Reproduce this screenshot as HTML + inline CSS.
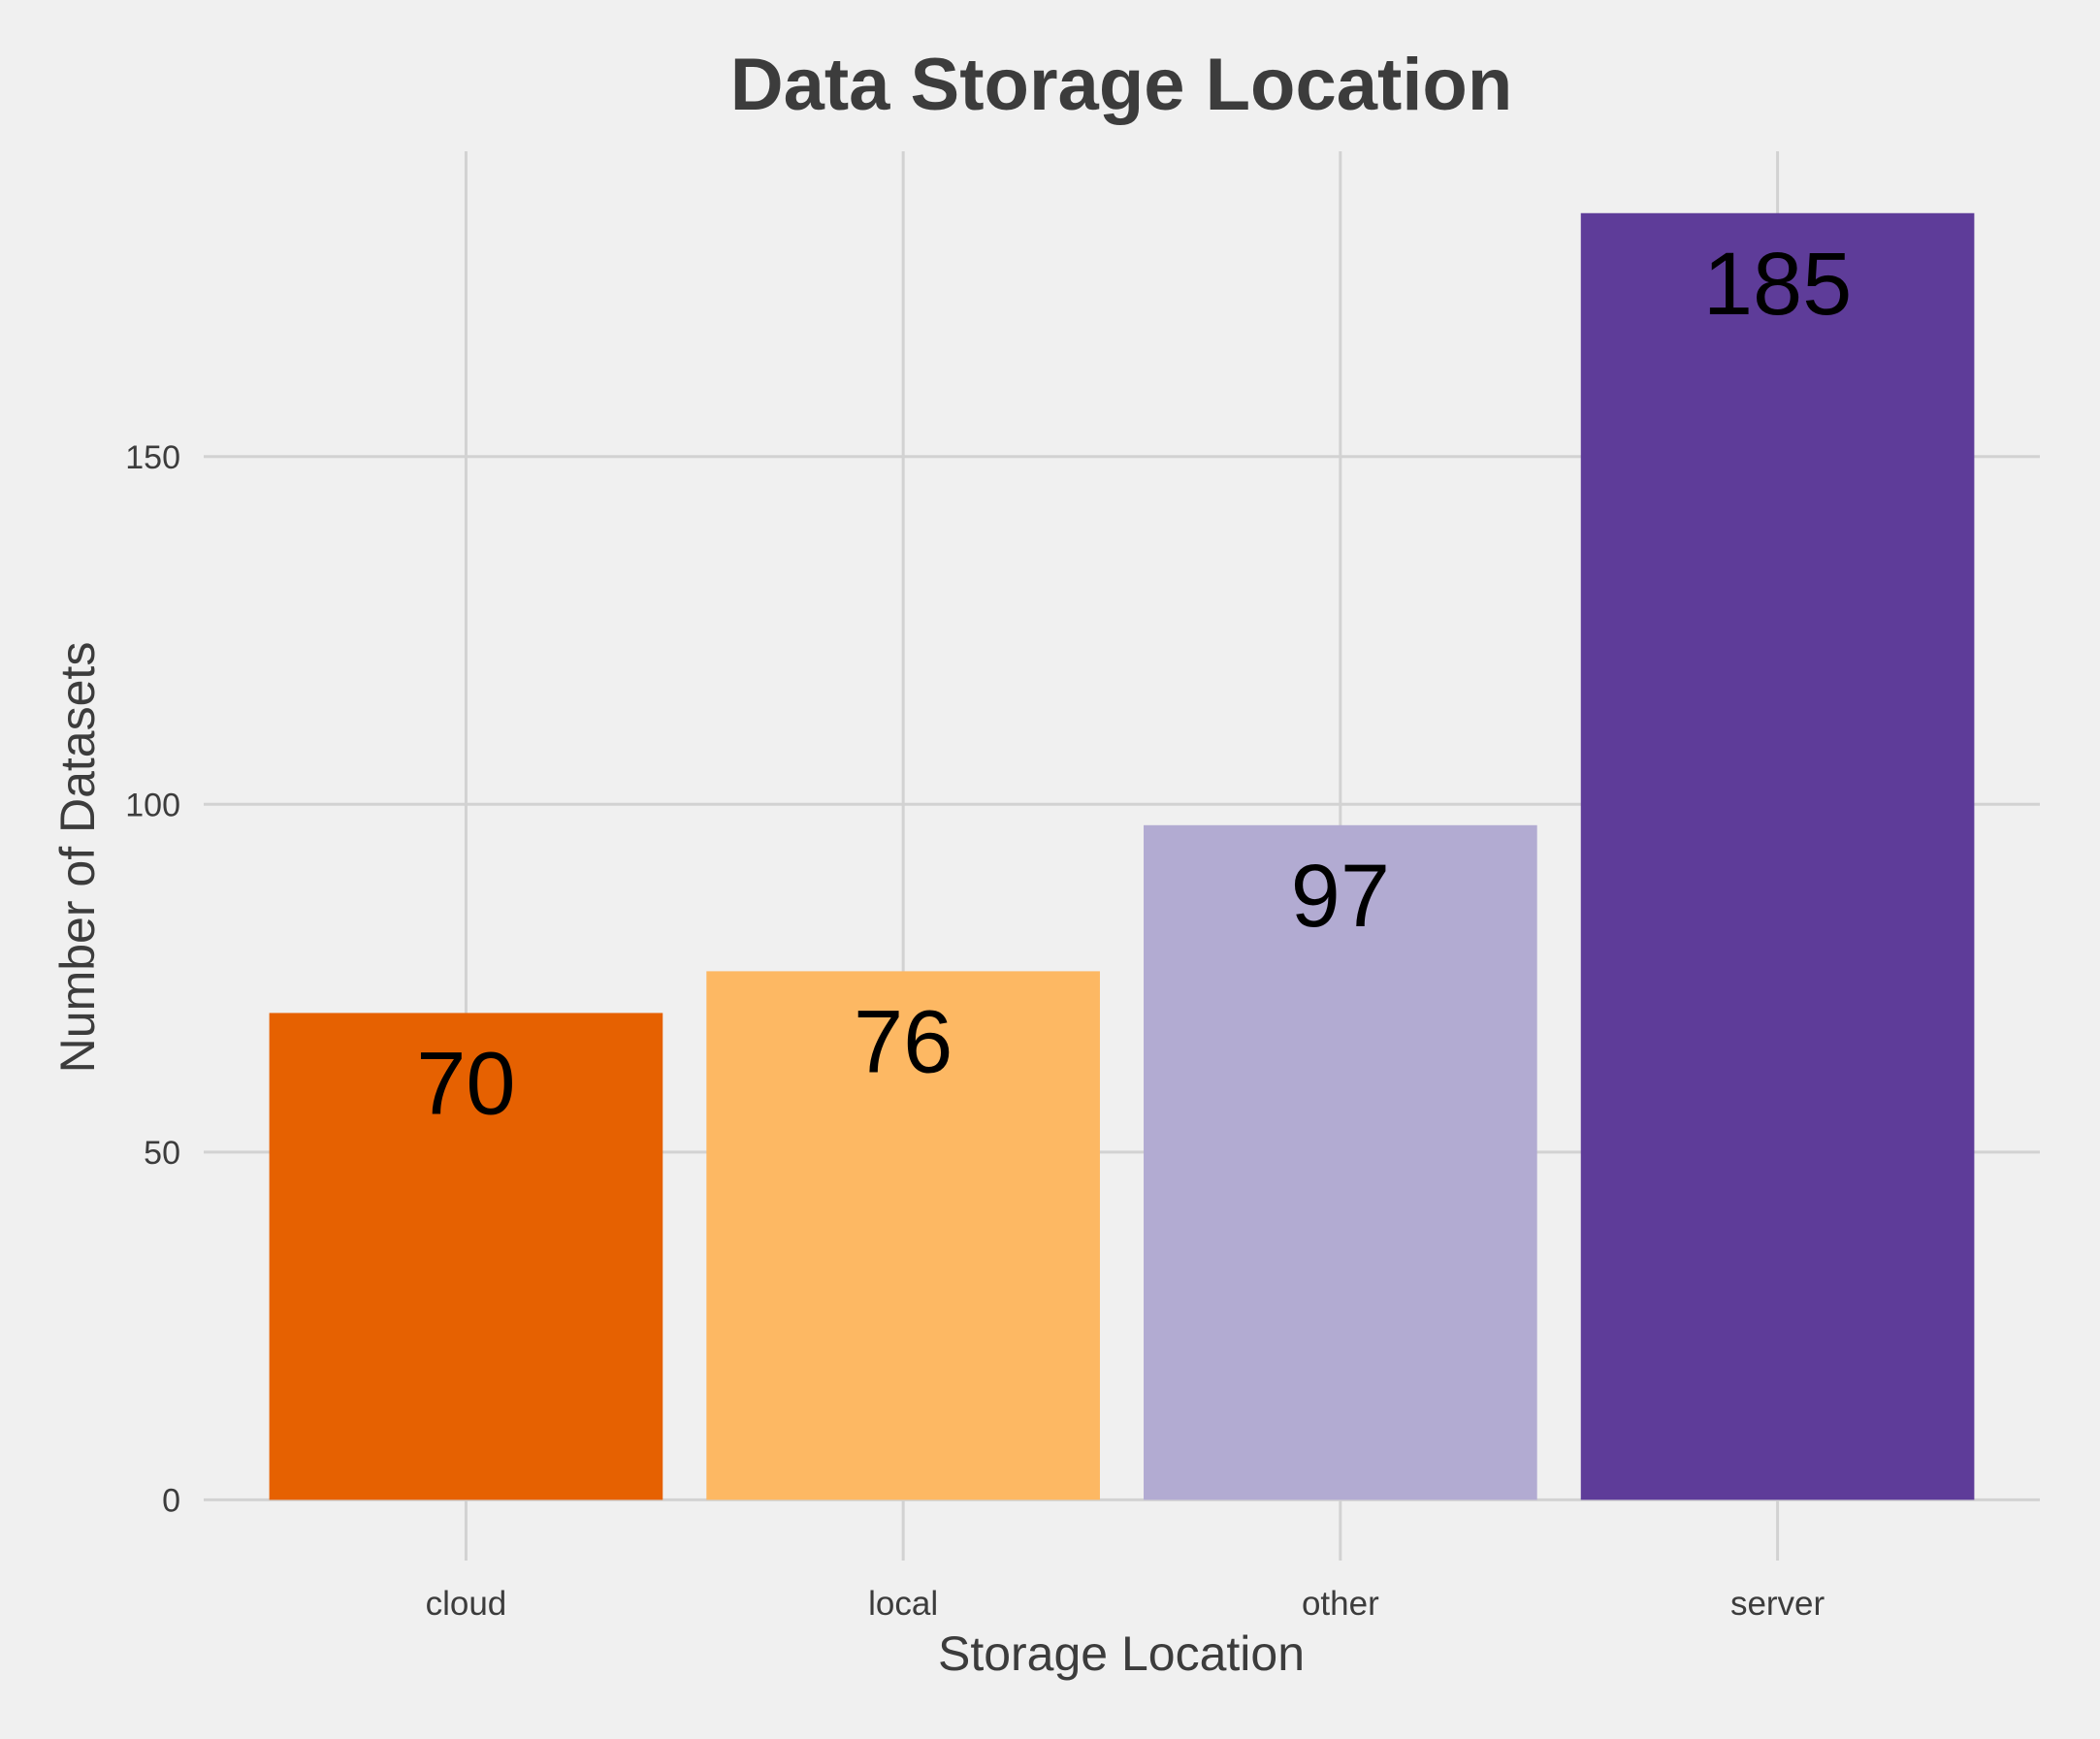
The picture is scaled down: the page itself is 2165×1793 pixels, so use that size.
<!DOCTYPE html>
<html><head><meta charset="utf-8"><style>
html,body{margin:0;padding:0;background:#f0f0f0;}
svg{display:block;font-family:"Liberation Sans",Arial,sans-serif;}
</style></head><body>
<svg id="chart" width="2165" height="1793" viewBox="0 0 2165 1793" xmlns="http://www.w3.org/2000/svg">
<rect x="0" y="0" width="2165" height="1793" fill="#f0f0f0"/>
<g id="grid"></g>
<g id="bars"></g>
<g id="labels"></g>
<text x="1156" y="113" text-anchor="middle" font-size="76" font-weight="bold" fill="#3c3c3c">Data Storage Location</text>
<text x="1156" y="1722" text-anchor="middle" font-size="50" fill="#3c3c3c">Storage Location</text>
<text x="0" y="0" transform="translate(97,884) rotate(-90)" text-anchor="middle" font-size="50" fill="#3c3c3c">Number of Datasets</text>
</svg>
<script>
const categories = ["cloud","local","other","server"];
const values = [70,76,97,185];
const yTicks = [0,50,100,150];
const colors = ["#e66101","#fdb863","#b2abd2","#5e3c99"];

const NS="http://www.w3.org/2000/svg";
const plotL=210, plotR=2103, plotT=156, plotB=1609;
const y0=1546.4, pxPerUnit=7.171;
const yScale=v=>y0-v*pxPerUnit;
const step=(plotR-plotL)/(categories.length-1+1.2);
const xCenter=i=>plotL+step*(i+0.6);
const barW=step*0.9;
function mk(tag,attrs,parent){const e=document.createElementNS(NS,tag);for(const k in attrs)e.setAttribute(k,attrs[k]);parent.appendChild(e);return e;}
const grid=document.getElementById('grid'),bars=document.getElementById('bars'),labels=document.getElementById('labels');
yTicks.forEach(t=>{
  const l=mk('line',{x1:plotL,x2:plotR,y1:yScale(t),y2:yScale(t),stroke:'#d2d2d2','stroke-width':3},grid);
  
  
  const tx=mk('text',{x:186,y:yScale(t)+12,'text-anchor':'end','font-size':34,fill:'#3c3c3c'},grid);
  tx.textContent=t;
  
  
});
categories.forEach((c,i)=>{
  const l=mk('line',{x1:xCenter(i),x2:xCenter(i),y1:plotT,y2:plotB,stroke:'#d2d2d2','stroke-width':3},grid);
  
  
  const tx=mk('text',{x:xCenter(i),y:1665,'text-anchor':'middle','font-size':35,fill:'#3c3c3c'},grid);
  tx.textContent=c;
  
  
  const r=mk('rect',{x:xCenter(i)-barW/2,y:yScale(values[i]),width:barW,height:y0-yScale(values[i]),fill:colors[i]},bars);
  
  
  const v=mk('text',{x:xCenter(i),y:yScale(values[i])+104,'text-anchor':'middle','font-size':92,fill:'#000'},labels);
  v.textContent=values[i];
  
  
});
</script>
</body></html>
